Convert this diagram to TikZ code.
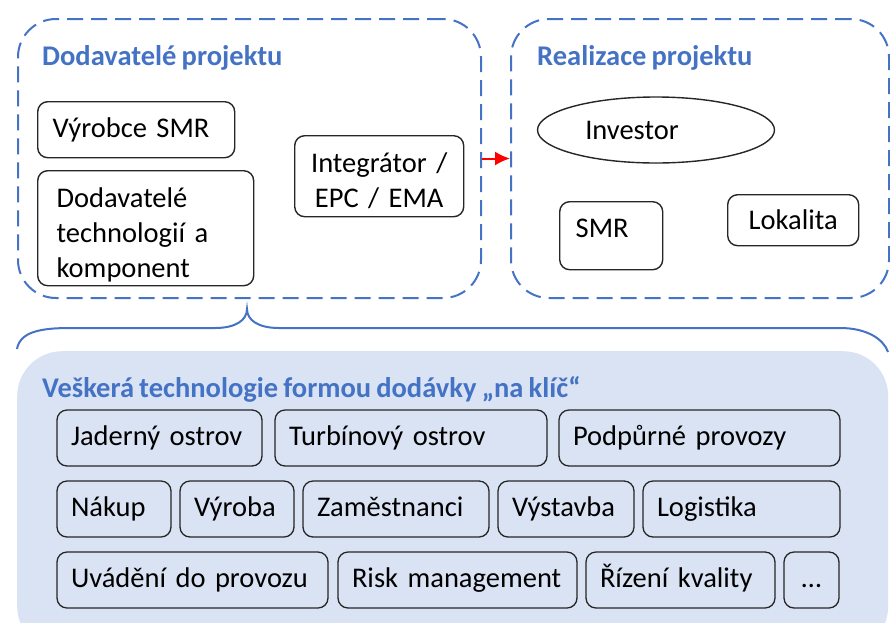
\documentclass[tikz,border=0pt]{standalone}
\usepackage{fontspec}
\setmainfont{Carlito}[WordSpace=0.8]
\usepackage{tikz}
\usetikzlibrary{shapes,arrows.meta,positioning}
\definecolor{blu}{HTML}{4472C4}
\definecolor{lightblu}{HTML}{DAE3F3}
\tikzset{
    x=1pt,y=-1pt,node distance =15pt and 9pt,
    group/.style ={draw=blu, line width=2pt, dash pattern=on 16pt off 8pt, rounded corners=38pt, anchor=north west, inner sep=0pt},
    panel/.style ={fill=lightblu, rounded corners=45pt, anchor=north west, inner sep=0pt},
    title/.style ={anchor=base west, text=blu, inner sep=0pt, font=\fontsize{28.5}{35}\selectfont\bfseries},
    box/.style ={draw=black!85, line width=1.4pt, rounded corners=10pt, fill=white, inner xsep=15pt, inner ysep=0pt, align=left, font=\fontsize{28.5}{35}\selectfont},
    item/.style ={draw=black!85, line width=1.3pt, rounded corners=10pt, minimum height=56pt, text width=#1, align=left, inner xsep=14pt, inner ysep=0pt, outer sep=0pt, text height=21pt, text depth=6pt, font=\fontsize{28.5}{35}\selectfont},
    redarrow/.style={draw=red, line width=2pt, -{Latex[length=15pt,width=14pt]}}
}
\begin{document}
\begin{tikzpicture}
    \useasboundingbox (0,0) rectangle (890,622);
    \node[group, minimum width=463pt, minimum height=279pt] (g1) at (17,18) {};
    \node[group, minimum width=378pt, minimum height=279pt] (g2) at (510,18) {};
    \node[title] (t1) at (42,65) {Dodavatelé projektu};
    \node[title] (t2) at (537,65) {Realizace projektu};

    \node[box, minimum width=197pt, minimum height=56pt, text width=167pt, anchor=north west] (1) at (37,101) {Výrobce SMR};
    \node[box, minimum width=216pt, minimum height=115pt, text width=178pt, inner xsep=19pt, text height=33pt, anchor=north west] (2) at (37,170) {Dodavatelé\\technologií a\\komponent};
    \node[box, minimum width=169pt, minimum height=81pt, text width=139pt, align=center, text height=28pt, anchor=north west] (3) at (294,135) {Integrátor /\\EPC / EMA};
    \node[box, ellipse, minimum width=237pt, minimum height=66pt, label={[font=\fontsize{28.5}{35}\selectfont, xshift=-24pt]center:Investor}] (4) at (656,130) {};
    \node[box, minimum width=103pt, minimum height=68pt, text width=71pt, inner xsep=16pt, text depth=14pt, anchor=north west] (5) at (559,201) {SMR};
    \node[box, minimum width=131pt, minimum height=51pt, align=center, inner xsep=0pt, anchor=north west] (6) at (727,194) {Lokalita};

    \path (g1) edge[redarrow] (g2);

    \draw[blu, line width=2pt] (17,349) .. controls (20,332) and (40,328) .. (70,328) -- (215,328) .. controls (236,328) and (247,320) .. (247,309) .. controls (247,320) and (258,328) .. (279,328) -- (840,328) .. controls (868,328) and (884,340) .. (888,352);

    \node[panel, minimum width=871pt, minimum height=300pt] (g3) at (17,351) {};
    \node[title] (t3) at (42,397) {Veškerá technologie formou dodávky „na klíč“};

    \node[item=177pt, anchor=north west] (7) at (57,410) {Jaderný ostrov};
    \node[item=244pt, right=13pt of 7] (8) {Turbínový ostrov};
    \node[item=253pt, right=12pt of 8] (9) {Podpůrné provozy};
    \node[item=86pt, anchor=north west] (10) at (57,481) {Nákup};
    \node[item=86pt, right=of 10] (11) {Výroba};
    \node[item=158pt, right=of 11] (12) {Zaměstnanci};
    \node[item=108pt, right=of 12] (13) {Výstavba};
    \node[item=169pt, right=of 13] (14) {Logistika};
    \node[item=243pt, anchor=north west] (15) at (57,552) {Uvádění do provozu};
    \node[item=211pt, right=10pt of 15] (16) {Risk management};
    \node[item=161pt, right=of 16] (17) {Řízení kvality};
    \node[item=27pt, align=center, right=of 17] (18) {…};
\end{tikzpicture}
\end{document}
